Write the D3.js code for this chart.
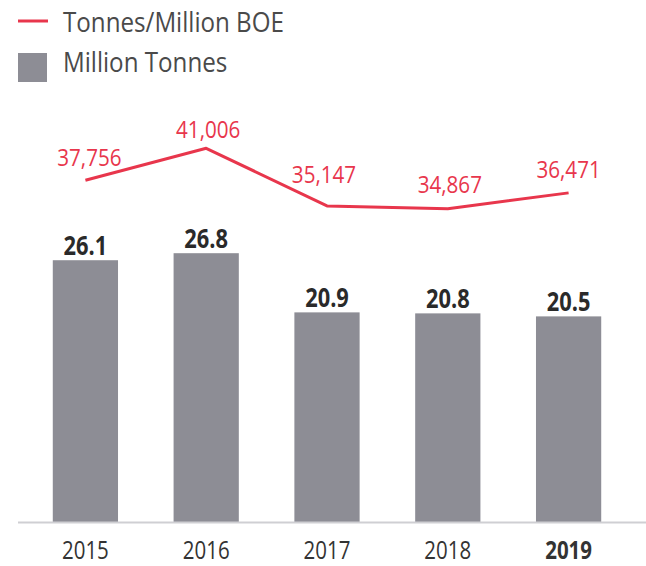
<!DOCTYPE html>
<html>
<head>
<meta charset="utf-8">
<script src="https://cdn.jsdelivr.net/npm/d3@7"></script>
<style>
  html, body { margin: 0; padding: 0; background: #fff; }
  svg { display: block; font-family: "Open Sans", "Noto Sans", sans-serif; }
</style>
</head>
<body>
<svg id="chart" width="646" height="566"></svg>
<script>
// Emissions by year
const years = ["2015", "2016", "2017", "2018", "2019"];
const millionTonnes = [26.1, 26.8, 20.9, 20.8, 20.5];
const tonnesPerMillionBOE = [37756, 41006, 35147, 34867, 36471];
const legendLabels = ["Tonnes/Million BOE", "Million Tonnes"];

const lineColor = "#e8364c";
const barColor = "#8d8d95";

// Label placement relative to each line point: [dx, baseline dy]
const lineLabelNudge = [[4, -14], [2, -10], [-3, -23], [2, -16], [0, -15]];

// Narrow figures: squeeze the glyphs horizontally around their anchor
const narrow = 0.86;

const svg = d3.select("#chart");

const x = d3.scaleBand()
  .domain(years)
  .range([25, 629])
  .paddingInner(0.46)
  .paddingOuter(0.23);

const yBar = d3.scaleLinear().domain([0, 30]).range([522, 522 - 30 * 10.03]);
const yLine = d3.scaleLinear().domain([30000, 45000]).range([256.5, 109.0]);

const cx = d => x(d) + x.bandwidth() / 2;

// Bars
svg.append("g").selectAll("rect")
  .data(years)
  .join("rect")
  .attr("x", d => x(d))
  .attr("width", x.bandwidth())
  .attr("y", (d, i) => yBar(millionTonnes[i]))
  .attr("height", (d, i) => yBar(0) - yBar(millionTonnes[i]))
  .attr("fill", barColor);

// Bar value labels
svg.append("g").selectAll("text")
  .data(years)
  .join("text")
  .attr("transform", (d, i) => `translate(${cx(d)},${yBar(millionTonnes[i]) - 5}) scale(0.84,1)`)
  .attr("text-anchor", "middle")
  .attr("font-size", 26)
  .attr("font-weight", "bold")
  .attr("fill", "#2a2a2a")
  .text((d, i) => d3.format(".1f")(millionTonnes[i]));

// Category axis along the baseline
const xAxis = d3.axisBottom(x).tickSize(0);
const axisG = svg.append("g")
  .attr("transform", `translate(0,${yBar(0)})`)
  .call(xAxis);
axisG.select(".domain").remove();
axisG.append("line")
  .attr("x1", 18).attr("x2", 646)
  .attr("y1", 0.5).attr("y2", 0.5)
  .attr("stroke", "#cfcfd3")
  .attr("stroke-width", 2);
axisG.selectAll(".tick text")
  .attr("y", 37.5)
  .attr("dy", 0)
  .attr("transform", "scale(0.82,1)")
  .attr("font-family", "Open Sans, sans-serif")
  .attr("font-size", 25)
  .attr("fill", "#333")
  .attr("font-weight", d => d === "2019" ? "bold" : "normal");

// Intensity line
const line = d3.line()
  .x(d => cx(d))
  .y((d, i) => yLine(tonnesPerMillionBOE[i]));

svg.append("path")
  .datum(years)
  .attr("d", line)
  .attr("fill", "none")
  .attr("stroke", lineColor)
  .attr("stroke-width", 3)
  .attr("stroke-linejoin", "round");

// Line value labels
svg.append("g").selectAll("text")
  .data(years)
  .join("text")
  .attr("transform", (d, i) =>
    `translate(${cx(d) + lineLabelNudge[i][0]},${yLine(tonnesPerMillionBOE[i]) + lineLabelNudge[i][1]}) scale(${narrow},1)`)
  .attr("text-anchor", "middle")
  .attr("font-size", 24)
  .attr("fill", lineColor)
  .text((d, i) => d3.format(",")(tonnesPerMillionBOE[i]));

// Legend
const legend = svg.append("g");
legend.append("line")
  .attr("x1", 18).attr("x2", 48)
  .attr("y1", 21).attr("y2", 21)
  .attr("stroke", lineColor)
  .attr("stroke-width", 3);
legend.append("rect")
  .attr("x", 18).attr("y", 53)
  .attr("width", 29).attr("height", 29)
  .attr("fill", barColor);
legend.selectAll("text")
  .data(legendLabels)
  .join("text")
  .attr("transform", (d, i) => `translate(63,${32 + i * 40}) scale(0.895,1)`)
  .attr("font-size", 27)
  .attr("fill", "#4a4a4a")
  .text(d => d);
</script>
</body>
</html>
